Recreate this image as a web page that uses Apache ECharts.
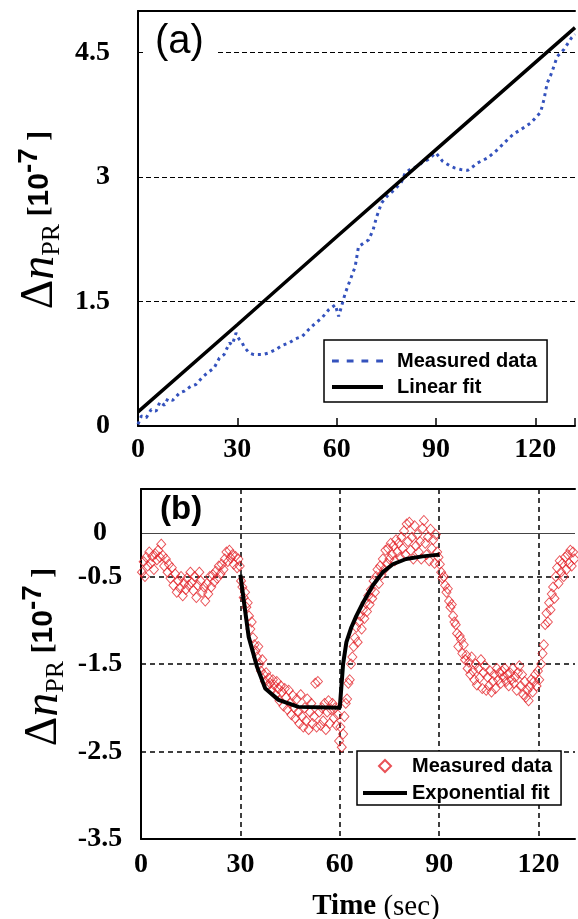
<!DOCTYPE html>
<html>
<head>
<meta charset="utf-8">
<script src="https://cdn.jsdelivr.net/npm/echarts@6/dist/echarts.min.js"></script>
<style>
  html, body { margin: 0; padding: 0; background: #fff; }
  #chart { width: 578px; height: 919px; }
</style>
</head>
<body>
<div id="chart"></div>
<script>
// tick labels
const xTickLabels = ['0', '30', '60', '90', '120'];
const yTickLabelsA = ['0', '1.5', '3', '4.5'];
const yTickLabelsB = ['-3.5', '-2.5', '-1.5', '-0.5'];

// (a) measured data, [time, value]
const measuredA = [
  [0, 0.02], [1, 0.12], [2.5, 0.1], [4, 0.2], [5.5, 0.18], [6.6, 0.29], [8, 0.25], [9, 0.33],
  [10.5, 0.31], [12.6, 0.4], [14, 0.42], [16, 0.48], [17.5, 0.5], [19.5, 0.59], [21, 0.64],
  [23, 0.7], [24.6, 0.82], [26, 0.86], [27.6, 1.0], [28.5, 0.98], [29.6, 1.12], [30.5, 1.05],
  [31.5, 1.0], [32.1, 0.95], [33.6, 0.88], [35, 0.86], [37.6, 0.86], [39.5, 0.88], [41.6, 0.92],
  [43.5, 0.97], [45.6, 1.0], [47.5, 1.05], [49.6, 1.08], [51.5, 1.16], [53.6, 1.24], [55.5, 1.3],
  [57.6, 1.4], [59.6, 1.46], [60.6, 1.32], [62.6, 1.6], [64.1, 1.76], [65.6, 1.92], [66.6, 2.16],
  [68, 2.2], [69.6, 2.24], [71, 2.36], [72, 2.51], [73.6, 2.69], [75.5, 2.78], [77.6, 2.85],
  [79.6, 2.94], [80.7, 3.05], [82.5, 3.1], [84.6, 3.13], [86, 3.18], [87.6, 3.21], [90, 3.29],
  [92, 3.19], [94, 3.14], [95.6, 3.11], [97.5, 3.09], [99.6, 3.08], [101, 3.12], [102.6, 3.17],
  [105.6, 3.23], [108.6, 3.33], [111.6, 3.45], [113.5, 3.52], [115.6, 3.57], [118.6, 3.65],
  [121.6, 3.78], [122.6, 3.93], [123.6, 4.13], [124.6, 4.22], [125.6, 4.33], [126.6, 4.45],
  [128.7, 4.54], [131, 4.68], [132, 4.72]
];
const linearFit = [[0, 0.17], [30, 1.22], [60, 2.28], [90, 3.33], [132, 4.8]];

// (b) measured data, [time, value]
const measuredB = [
  [0.3, -0.45], [0.8, -0.33], [1.2, -0.5], [1.6, -0.28], [2.0, -0.38], [2.5, -0.22], [3.0, -0.35],
  [3.4, -0.27], [3.9, -0.42], [4.3, -0.24], [4.8, -0.31], [5.2, -0.2], [5.7, -0.28], [6.1, -0.13],
  [6.6, -0.26], [7.0, -0.38], [7.5, -0.3], [8.0, -0.45], [8.4, -0.36], [8.9, -0.52], [9.3, -0.4],
  [9.8, -0.6], [10.3, -0.47], [10.8, -0.68], [11.2, -0.55], [11.7, -0.63], [12.1, -0.5], [12.6, -0.72],
  [13.0, -0.58], [13.5, -0.65], [13.9, -0.52], [14.4, -0.6], [14.9, -0.45], [15.3, -0.57], [15.8, -0.66],
  [16.2, -0.5], [16.7, -0.74], [17.1, -0.6], [17.6, -0.45], [18.0, -0.55], [18.5, -0.68], [19.0, -0.62],
  [19.4, -0.78], [19.9, -0.58], [20.3, -0.7], [20.8, -0.5], [21.2, -0.62], [21.7, -0.48], [22.1, -0.56],
  [22.6, -0.44], [23.0, -0.52], [23.5, -0.38], [24.0, -0.47], [24.4, -0.36], [24.9, -0.42], [25.3, -0.3],
  [25.8, -0.22], [26.2, -0.33], [26.7, -0.2], [27.1, -0.29], [27.6, -0.25], [28.0, -0.36], [28.5, -0.27],
  [29.0, -0.4], [29.4, -0.3], [29.8, -0.38],
  [30.2, -0.55], [30.6, -0.62], [31.0, -0.74], [31.4, -0.68], [31.8, -0.85], [32.2, -0.8], [32.6, -0.95],
  [33.0, -1.1], [33.4, -1.02], [33.8, -1.2], [34.2, -1.28], [34.6, -1.35], [35.0, -1.42], [35.4, -1.3],
  [35.8, -1.5], [36.2, -1.58], [36.6, -1.45], [37.0, -1.62], [37.4, -1.7], [37.8, -1.6], [38.2, -1.75],
  [38.6, -1.66], [39.0, -1.72], [39.4, -1.8], [39.8, -1.68], [40.2, -1.74], [40.6, -1.85], [41.0, -1.7],
  [41.4, -1.78], [41.8, -1.92], [42.2, -1.75], [42.6, -1.82], [43.0, -1.98], [43.4, -1.78], [43.8, -1.88],
  [44.2, -2.02], [44.6, -1.8], [45.0, -1.95], [45.4, -2.08], [45.8, -1.86], [46.2, -2.0], [46.6, -2.12],
  [47.0, -1.9], [47.4, -2.05], [47.8, -2.18], [48.2, -1.85], [48.6, -2.1], [49.0, -2.22], [49.4, -2.0],
  [49.8, -2.15], [50.2, -1.9], [50.6, -2.25], [51.0, -2.05], [51.4, -1.95], [51.8, -2.18], [52.2, -2.1],
  [52.6, -1.72], [53.0, -2.22], [53.4, -1.7], [53.8, -2.05], [54.2, -2.2], [54.6, -2.0], [55.0, -2.15],
  [55.4, -1.95], [55.8, -2.25], [56.2, -2.05], [56.6, -1.92], [57.0, -2.18], [57.4, -2.02], [57.8, -1.95],
  [58.2, -2.12], [58.6, -2.0], [59.0, -2.2], [59.4, -2.08], [59.8, -2.38], [60.2, -2.22], [60.6, -2.45],
  [61.0, -2.3], [61.4, -2.1],
  [61.8, -1.95], [62.2, -1.9], [62.6, -1.72], [63.0, -1.68], [63.4, -1.5], [63.8, -1.42], [64.2, -1.3],
  [64.6, -1.2], [65.0, -1.08], [65.4, -1.25], [65.8, -1.02], [66.2, -0.95], [66.6, -1.1], [67.0, -0.88],
  [67.4, -0.98], [67.8, -0.8], [68.2, -0.9], [68.6, -0.72], [69.0, -0.82], [69.4, -0.65], [69.8, -0.75],
  [70.2, -0.55], [70.6, -0.68], [71.0, -0.5], [71.4, -0.42], [71.8, -0.58], [72.2, -0.38], [72.6, -0.48],
  [73.0, -0.3], [73.4, -0.42], [73.8, -0.2], [74.2, -0.35], [74.6, -0.18], [75.0, -0.3], [75.4, -0.12],
  [75.8, -0.25], [76.2, -0.15], [76.6, -0.32], [77.0, -0.08], [77.4, -0.22], [77.8, -0.12], [78.2, -0.28],
  [78.6, -0.05], [79.0, -0.18], [79.4, 0.02], [79.8, -0.25], [80.2, 0.1], [80.6, -0.1], [81.0, 0.12],
  [81.4, -0.2], [81.8, -0.05], [82.2, -0.3], [82.6, 0.08], [83.0, -0.15], [83.4, -0.02], [83.8, -0.22],
  [84.2, -0.1], [84.6, -0.3], [85.0, 0.05], [85.4, 0.14], [85.8, -0.12], [86.2, -0.25], [86.6, -0.05],
  [87.0, -0.32], [87.4, 0.04], [87.8, -0.18], [88.2, -0.08], [88.6, -0.35], [89.0, -0.02], [89.4, -0.22],
  [89.8, -0.28], [90.2, -0.36],
  [90.6, -0.45], [91.0, -0.52], [91.4, -0.5], [91.8, -0.6], [92.2, -0.68], [92.6, -0.64], [93.0, -0.78],
  [93.4, -0.85], [93.8, -0.82], [94.2, -0.95], [94.6, -1.02], [95.0, -1.05], [95.4, -1.15], [95.8, -1.3],
  [96.2, -1.18], [96.6, -1.22], [97.0, -1.38], [97.4, -1.28], [97.8, -1.45], [98.2, -1.4], [98.6, -1.55],
  [99.0, -1.48], [99.4, -1.62], [99.8, -1.42], [100.2, -1.58], [100.6, -1.68], [101.0, -1.5], [101.4, -1.74],
  [101.8, -1.55], [102.2, -1.66], [102.6, -1.45], [103.0, -1.78], [103.4, -1.6], [103.8, -1.52], [104.2, -1.8],
  [104.6, -1.65], [105.0, -1.75], [105.4, -1.58], [105.8, -1.82], [106.2, -1.7], [106.6, -1.62], [107.0, -1.78],
  [107.4, -1.55], [107.8, -1.68], [108.2, -1.6], [108.6, -1.72], [109.0, -1.58], [109.4, -1.65], [109.8, -1.55],
  [110.2, -1.7], [110.6, -1.62], [111.0, -1.75], [111.4, -1.6], [111.8, -1.68], [112.2, -1.55], [112.6, -1.72],
  [113.0, -1.65], [113.4, -1.8], [113.8, -1.6], [114.2, -1.52], [114.6, -1.75], [115.0, -1.62], [115.4, -1.85],
  [115.8, -1.7], [116.2, -1.88], [116.6, -1.8], [117.0, -1.92], [117.4, -1.76], [117.8, -1.68], [118.2, -1.82],
  [118.6, -1.7], [119.0, -1.62], [119.4, -1.75], [119.8, -1.58], [120.2, -1.68],
  [120.8, -1.5], [121.2, -1.38], [121.6, -1.28], [122.0, -1.05], [122.4, -0.92], [122.8, -1.02], [123.2, -0.8],
  [123.6, -0.88], [124.0, -0.7], [124.4, -0.62], [124.8, -0.75], [125.2, -0.5], [125.6, -0.4], [126.0, -0.58],
  [126.4, -0.32], [126.8, -0.45], [127.2, -0.35], [127.6, -0.5], [128.0, -0.28], [128.4, -0.42], [128.8, -0.25],
  [129.2, -0.35], [129.6, -0.2], [130.0, -0.38], [130.4, -0.22], [130.8, -0.3]
];
const expFit = [
  [30, -0.48], [31, -0.77], [32.5, -1.19], [35, -1.53], [37.5, -1.78], [41.5, -1.91], [47.5, -1.99],
  [60, -2.0], [61, -1.5], [62, -1.25], [63.5, -1.08], [65, -0.95], [67, -0.8], [70, -0.6], [73, -0.45],
  [76, -0.36], [80, -0.3], [85, -0.27], [90, -0.25]
];

const serif = '"Liberation Serif", "DejaVu Serif", serif';
const sans = '"Liberation Sans", Arial, sans-serif';
const legendNames = { 'Measured data a': 'Measured data', 'Measured data b': 'Measured data' };

// legend icons: short dashes, thick bar, hollow diamond
const dashIcon = 'path://M0,0h3v1.3h-3zM6.5,0h3v1.3h-3zM13,0h3v1.3h-3zM19.5,0h3v1.3h-3z';
const barIconA = 'path://M0,0H13V1H0Z';
const barIconB = 'path://M0,0H11V1H0Z';
const diamondIcon = 'path://M5,0L10,5L5,10L0,5Z';

let myChart = echarts.init(document.getElementById('chart'));

const tickFont = { fontFamily: serif, fontWeight: 'bold', fontSize: 28, color: '#000' };
const blackLine = { show: true, onZero: false, lineStyle: { color: '#000', width: 2 } };
const edge = (grid, min, max) => ({
  gridIndex: grid, type: 'value', position: 'top', min: min, max: max,
  axisLine: blackLine, axisTick: { show: false }, axisLabel: { show: false }, splitLine: { show: false }
});

const yTitle = {
  d: { fontSize: 46, fontFamily: serif, fill: '#000', lineHeight: 50 },
  n: { fontSize: 48, fontFamily: serif, fontStyle: 'italic', fill: '#000', lineHeight: 50 },
  s: { fontSize: 26, fontFamily: serif, fill: '#000', verticalAlign: 'bottom', lineHeight: 26 },
  b: { fontSize: 30, fontFamily: serif, fontWeight: 'bold', fill: '#000' },
  t: { fontSize: 30, fontFamily: sans, fontWeight: 'bold', fill: '#000' },
  p: { fontSize: 28, fontFamily: sans, fontWeight: 'bold', fill: '#000', verticalAlign: 'top', lineHeight: 28 }
};
const yTitleText = '{d|Δ}{n|n}{s|PR}{b| [}{t|10}{p|-7}{b| ]}';

myChart.setOption({
  backgroundColor: '#fff',
  animation: false,
  grid: [
    { left: 138, top: 11, width: 440, height: 415 },
    { left: 141, top: 489, width: 437, height: 350 }
  ],
  xAxis: [
    {
      gridIndex: 0, type: 'value', min: 0, max: 132, interval: 30,
      axisLine: blackLine,
      axisTick: { show: true, inside: true, length: 8, lineStyle: { color: '#000', width: 1.5 } },
      axisLabel: Object.assign({ margin: 10, formatter: v => xTickLabels.includes(String(v)) ? String(v) : '' }, tickFont),
      splitLine: { show: false }
    },
    edge(0, 0, 132),
    {
      gridIndex: 1, type: 'value', min: 0, max: 131, interval: 30,
      axisLine: blackLine,
      axisTick: { show: false },
      axisLabel: Object.assign({ margin: 12, formatter: v => xTickLabels.includes(String(v)) ? String(v) : '' }, tickFont),
      splitLine: { show: true, showMaxLine: false, lineStyle: { color: '#000', width: 1.5, type: [5, 4] } }
    },
    edge(1, 0, 131)
  ],
  yAxis: [
    {
      gridIndex: 0, type: 'value', position: 'left', min: 0, max: 5, interval: 1.5,
      axisLine: blackLine, axisTick: { show: false },
      axisLabel: Object.assign({ margin: 28, formatter: v => yTickLabelsA.includes(String(v)) ? String(v) : '' }, tickFont),
      splitLine: { show: true, lineStyle: { color: '#000', width: 1, type: [5, 3] } }
    },
    {
      gridIndex: 1, type: 'value', position: 'left', min: -3.5, max: 0.5, interval: 1,
      axisLine: blackLine, axisTick: { show: false },
      axisLabel: Object.assign({ margin: 41, align: 'center', formatter: v => yTickLabelsB.includes(String(v)) ? String(v) : '' }, tickFont),
      splitLine: { show: true, lineStyle: { color: '#000', width: 1.5, type: [5, 4] } }
    },
    {
      gridIndex: 1, type: 'value', position: 'left', min: -3.5, max: 0.5, interval: 3.5,
      axisLine: { show: false }, axisTick: { show: false },
      axisLabel: Object.assign({ margin: 41, align: 'center', formatter: v => v === 0 ? '0' : '' }, tickFont),
      splitLine: { show: true, lineStyle: { color: '#444', width: 1.2, type: 'solid' } }
    }
  ],
  legend: [
    {
      data: [
        { name: 'Measured data a', icon: dashIcon },
        { name: 'Linear fit', icon: barIconA }
      ],
      selectedMode: false,
      orient: 'vertical', left: 324, top: 340, padding: [11, 10, 5, 8],
      itemWidth: 51, itemHeight: 14, itemGap: 6,
      backgroundColor: '#fff', borderColor: '#000', borderWidth: 1.5, borderRadius: 0,
      formatter: n => legendNames[n] || n,
      textStyle: { fontFamily: sans, fontWeight: 'bold', fontSize: 20, color: '#000', padding: [0, 0, 0, 9] }
    },
    {
      data: [
        { name: 'Measured data b', icon: diamondIcon },
        { name: 'Exponential fit', icon: barIconB }
      ],
      selectedMode: false,
      orient: 'vertical', left: 357, top: 751, padding: [5, 9, 2, 6],
      itemWidth: 44, itemHeight: 12, itemGap: 7,
      backgroundColor: '#fff', borderColor: '#000', borderWidth: 1.5, borderRadius: 0,
      formatter: n => legendNames[n] || n,
      textStyle: { fontFamily: sans, fontWeight: 'bold', fontSize: 20, color: '#000' }
    }
  ],
  series: [
    {
      name: 'Measured data a', type: 'line', xAxisIndex: 0, yAxisIndex: 0,
      data: measuredA, symbol: 'none', z: 2,
      lineStyle: { color: '#3452bd', width: 3, type: [3, 4] },
      itemStyle: { color: '#3452bd' }
    },
    {
      name: 'Linear fit', type: 'line', xAxisIndex: 0, yAxisIndex: 0,
      data: linearFit, symbol: 'none', z: 3,
      lineStyle: { color: '#000', width: 3.5 },
      itemStyle: { color: '#000' }
    },
    {
      name: 'Measured data b', type: 'scatter', xAxisIndex: 2, yAxisIndex: 1,
      data: measuredB, symbol: 'diamond', symbolSize: [9, 10], z: 2,
      itemStyle: { color: 'rgba(0,0,0,0)', borderColor: '#e3262c', borderWidth: 1 }
    },
    {
      name: 'Exponential fit', type: 'line', xAxisIndex: 2, yAxisIndex: 1,
      data: expFit, symbol: 'none', z: 3,
      lineStyle: { color: '#000', width: 4 },
      itemStyle: { color: '#000' }
    }
  ],
  graphic: [
    {
      type: 'text', x: 145, y: 22, z: 100,
      style: {
        text: '(a)', font: '40px ' + sans, fill: '#000',
        backgroundColor: '#fff', padding: [0, 12, 0, 10]
      }
    },
    {
      type: 'text', x: 160, y: 493, z: 100,
      style: { text: '(b)', font: 'bold 33px ' + sans, fill: '#000' }
    },
    {
      type: 'text', x: 40, y: 220, rotation: Math.PI / 2, z: 100,
      style: { text: yTitleText, rich: yTitle, align: 'center', verticalAlign: 'middle' }
    },
    {
      type: 'text', x: 44, y: 657, rotation: Math.PI / 2, z: 100,
      style: { text: yTitleText, rich: yTitle, align: 'center', verticalAlign: 'middle' }
    },
    {
      type: 'text', x: 376, y: 907, z: 100,
      style: {
        text: '{b|Time }{r|(sec)}', align: 'center', verticalAlign: 'middle',
        rich: {
          b: { fontSize: 29, fontFamily: serif, fontWeight: 'bold', fill: '#000' },
          r: { fontSize: 29, fontFamily: serif, fill: '#000' }
        }
      }
    }
  ]
});

window.onresize = function () {
  myChart.resize();
};
</script>
</body>
</html>
